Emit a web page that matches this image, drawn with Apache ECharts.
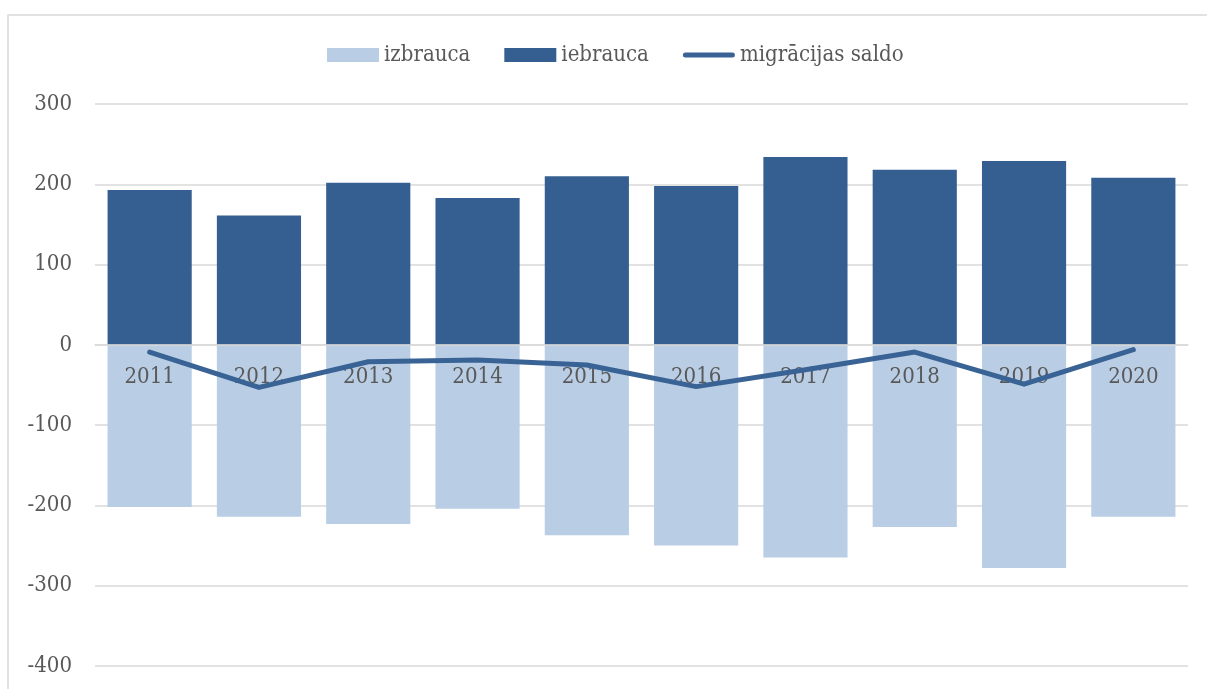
<!DOCTYPE html>
<html lang="lv">
<head>
	<meta charset="UTF-8">
	<title>Migrācija</title>
	<script src="https://cdn.jsdelivr.net/npm/echarts@6/dist/echarts.min.js"></script>
</head>
<body style="margin:0;">
	<div id="chart" style="width: 1207px; height: 689px;"></div>
	<script type="text/javascript">
		const years = ['2011', '2012', '2013', '2014', '2015', '2016', '2017', '2018', '2019', '2020'];
		const izbrauca = [-202, -214, -223, -204, -237, -250, -265, -227, -278, -214];
		const iebrauca = [193, 161, 202, 183, 210, 198, 234, 218, 229, 208];
		const saldo = [-9, -53, -21, -19, -25, -52, -31, -9, -49, -6];

		const font = '"DejaVu Serif Condensed", "DejaVu Serif", serif';
		const textColor = '#595959';

		const chart = echarts.init(document.getElementById('chart'));
		chart.setOption({
			animation: false,
			textStyle: { fontFamily: font },
			graphic: [{
				type: 'rect',
				shape: { x: 8, y: 15, width: 1210, height: 700 },
				style: { fill: 'none', stroke: '#d9d9d9', lineWidth: 1.5 },
				silent: true
			}],
			legend: {
				top: 44,
				left: 327,
				padding: 0,
				itemWidth: 52,
				itemHeight: 14,
				itemGap: 34,
				textStyle: { fontFamily: font, fontSize: 22, color: textColor },
				data: [
					{ name: 'izbrauca', icon: 'rect' },
					{ name: 'iebrauca', icon: 'rect' },
					{ name: 'migrācijas saldo', icon: 'path://M2.5,0 H49.5 A2.5,2.5 0 0 1 49.5,5 H2.5 A2.5,2.5 0 0 1 2.5,0 Z' }
				]
			},
			grid: { left: 95, right: 19, top: 104, bottom: 23, containLabel: false, outerBoundsMode: 'none' },
			xAxis: {
				type: 'category',
				data: years,
				z: 3,
				offset: -321,
				axisLine: { onZero: false, lineStyle: { color: '#d9d9d9', width: 1.5 } },
				axisTick: { show: false },
				axisLabel: { color: textColor, fontFamily: font, fontSize: 22, margin: 21 }
			},
			yAxis: {
				type: 'value',
				min: -400,
				max: 300,
				interval: 100,
				axisLine: { show: false },
				axisTick: { show: false },
				splitLine: { lineStyle: { color: '#d9d9d9', width: 1.5 } },
				axisLabel: { color: textColor, fontFamily: font, fontSize: 22, margin: 23 }
			},
			series: [
				{
					name: 'izbrauca',
					type: 'bar',
					data: izbrauca,
					barWidth: '77%',
					barGap: '-100%',
					itemStyle: { color: '#b9cde5' }
				},
				{
					name: 'iebrauca',
					type: 'bar',
					data: iebrauca,
					barWidth: '77%',
					itemStyle: { color: '#365f91' }
				},
				{
					name: 'migrācijas saldo',
					type: 'line',
					data: saldo,
					z: 5,
					symbol: 'none',
					lineStyle: { color: '#3a6395', width: 5, cap: 'round', join: 'round' },
					itemStyle: { color: '#3a6395' }
				}
			]
		});
	</script>
</body>
</html>
